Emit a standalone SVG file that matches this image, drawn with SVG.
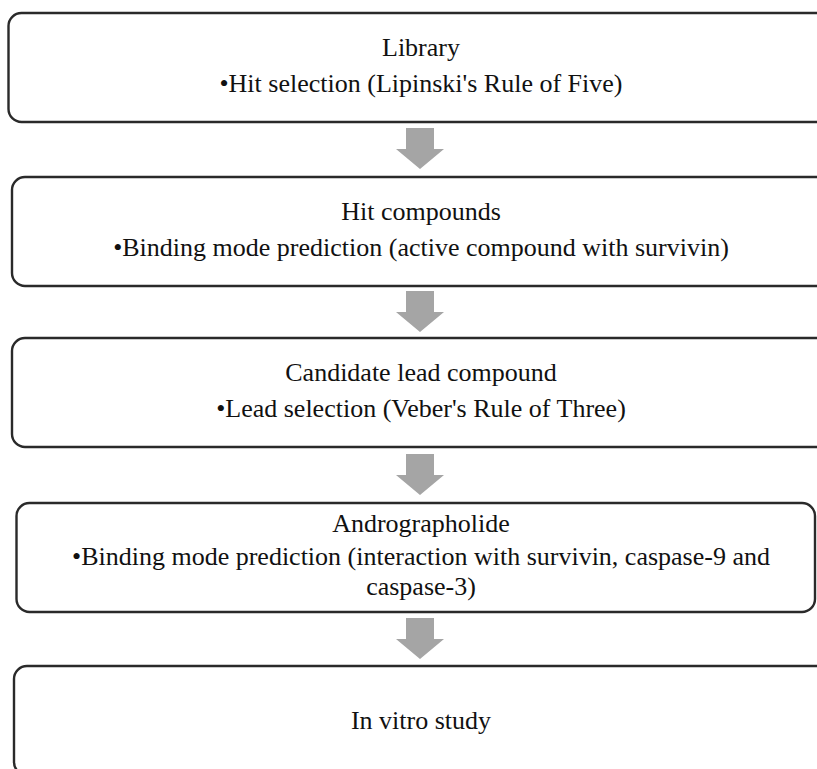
<svg xmlns="http://www.w3.org/2000/svg" width="817" height="769" viewBox="0 0 817 769">
<defs>
<style>
.box{fill:#ffffff;stroke:#2a2a2a;stroke-width:2.4}
.t{font-family:"Liberation Serif","Times New Roman",serif;font-size:26px;fill:#111;text-anchor:middle}
.arr{fill:#a5a5a5}
</style>
</defs>
<rect width="817" height="769" fill="#ffffff"/>
<g id="node-library">
<rect class="box" x="8.5" y="13" width="830" height="109" rx="13"/>
<text class="t" x="421" y="56">Library</text>
<text class="t" x="421" y="92">•Hit selection (Lipinski's Rule of Five)</text>
</g>
<g id="node-hit">
<rect class="box" x="12" y="177" width="830" height="109" rx="13"/>
<text class="t" x="421" y="220">Hit compounds</text>
<text class="t" x="421" y="256">•Binding mode prediction (active compound with survivin)</text>
</g>
<g id="node-candidate">
<rect class="box" x="12" y="338" width="830" height="109" rx="13"/>
<text class="t" x="421" y="381">Candidate lead compound</text>
<text class="t" x="421" y="417">•Lead selection (Veber's Rule of Three)</text>
</g>
<g id="node-andro">
<rect class="box" x="16.5" y="503" width="798.5" height="109" rx="13"/>
<text class="t" x="421" y="532">Andrographolide</text>
<text class="t" x="421" y="565">•Binding mode prediction (interaction with survivin, caspase-9 and</text>
<text class="t" x="421" y="595">caspase-3)</text>
</g>
<g id="node-invitro">
<rect class="box" x="14" y="666" width="830" height="109" rx="13"/>
<text class="t" x="421" y="729">In vitro study</text>
</g>
<g id="connectors">
<polygon class="arr" points="406,128 434,128 434,149 444,149 420,169 396,149 406,149"/>
<polygon class="arr" points="406,291 434,291 434,312 444,312 420,332 396,312 406,312"/>
<polygon class="arr" points="406,454 434,454 434,475 444,475 420,495 396,475 406,475"/>
<polygon class="arr" points="406,618 434,618 434,639 444,639 420,659 396,639 406,639"/>
</g>
</svg>
